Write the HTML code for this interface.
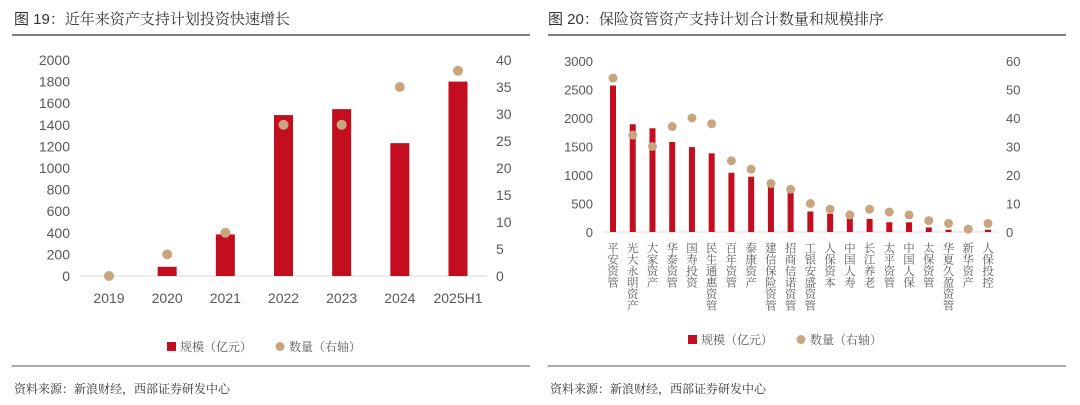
<!DOCTYPE html>
<html><head><meta charset="utf-8">
<style>
html,body{margin:0;padding:0;background:#fff;}
svg{display:block;font-family:"Liberation Sans","Noto Sans CJK SC",sans-serif;}
.t{font-family:"Noto Serif CJK SC","Noto Sans CJK SC",sans-serif;}
</style></head>
<body>
<svg id="s" width="1080" height="405" viewBox="0 0 1080 405" xmlns="http://www.w3.org/2000/svg">
  <text x="14" y="24" font-size="15" fill="#333"><tspan font-family="Liberation Sans">图 19</tspan><tspan class="t">：近年来资产支持计划投资快速增长</tspan></text>
  <line x1="12" y1="35" x2="530" y2="35" stroke="#555" stroke-width="1.5"/>
  <line x1="12" y1="366" x2="530" y2="366" stroke="#555" stroke-width="1"/>
  <text x="14" y="393" font-size="12" fill="#333" class="t">资料来源：新浪财经，西部证券研发中心</text>

  <text x="548" y="24" font-size="15" fill="#333"><tspan font-family="Liberation Sans">图 20</tspan><tspan class="t">：保险资管资产支持计划合计数量和规模排序</tspan></text>
  <line x1="548" y1="35" x2="1066" y2="35" stroke="#555" stroke-width="1.5"/>
  <line x1="548" y1="366" x2="1066" y2="366" stroke="#555" stroke-width="1"/>
  <text x="550" y="393" font-size="12" fill="#333" class="t">资料来源：新浪财经，西部证券研发中心</text>
  <g id="c1"></g><g id="c2"></g>
</svg>
<script>
const years = ["2019","2020","2021","2022","2023","2024","2025H1"];
const scaleValues = [0, 85, 385, 1490, 1545, 1230, 1800];
const countValues = [0, 4, 8, 28, 28, 35, 38];
const leftTicks = [0,200,400,600,800,1000,1200,1400,1600,1800,2000];
const rightTicks = [0,5,10,15,20,25,30,35,40];

const firms = ["平安资管","光大永明资产","大家资产","华泰资管","国寿投资","民生通惠资管","百年资管","泰康资产","建信保险资管","招商信诺资管","工银安盛资管","人保资本","中国人寿","长江养老","太平资管","中国人保","太保资管","华夏久盈资管","新华资产","人保投控"];
const firmScale = [2570, 1890, 1820, 1580, 1490, 1380, 1040, 970, 800, 700, 360, 320, 240, 230, 170, 170, 80, 40, 0, 40];
const firmCount = [54, 34, 30, 37, 40, 38, 25, 22, 17, 15, 10, 8, 6, 8, 7, 6, 4, 3, 1, 3];
const leftTicks2 = [0,500,1000,1500,2000,2500,3000];
const rightTicks2 = [0,10,20,30,40,50,60];

const NS = "http://www.w3.org/2000/svg";
const RED = "#c20e1f", TAN = "#c9a57f", GRAY = "#595959";
function mk(parent, tag, attrs, text){
  const e = document.createElementNS(NS, tag);
  for (const k in attrs) e.setAttribute(k, attrs[k]);
  if (text !== undefined) e.textContent = text;
  parent.appendChild(e); return e;
}

function chart(g, o){
  const yL = v => o.y0 - (v / o.lmax) * (o.y0 - o.y1);
  const yR = v => o.y0 - (v / o.rmax) * (o.y0 - o.y1);
  const step = (o.xlast - o.xfirst) / (o.cats.length - 1);
  const xC = i => o.xfirst + i * step;
  o.lt.forEach(v => {
    const t = mk(g, "text", {x:o.lx, y:yL(v)+5, "font-size":o.fs, fill:GRAY, "text-anchor":"end"}, v);
    
    
  });
  o.rt.forEach(v => {
    const t = mk(g, "text", {x:o.rx, y:yR(v)+5, "font-size":o.fs, fill:GRAY, "text-anchor":"start"}, v);
    
    
  });
  const ax = mk(g, "line", {x1:o.ax0, x2:o.ax1, y1:o.y0, y2:o.y0, stroke:"#d9d9d9", "stroke-width":1});
  
  
  o.cats.forEach((c, i) => {
    const h = o.y0 - yL(o.bars[i]);
    const b = mk(g, "rect", {x:xC(i)-o.bw/2, y:yL(o.bars[i]), width:o.bw, height:Math.max(h,0), fill:RED});
    
    
  });
  o.cats.forEach((c, i) => {
    const d = mk(g, "circle", {cx:xC(i), cy:yR(o.dots[i]), r:o.r, fill:TAN});
    
    
    let t;
    if (o.vertical) {
      t = mk(g, "text", {x:xC(i), y:o.labY, "font-size":11.5, fill:GRAY, "writing-mode":"tb", "glyph-orientation-vertical":"0", "font-family":"Noto Serif CJK SC, Noto Sans CJK SC, sans-serif"}, c);
    } else {
      t = mk(g, "text", {x:xC(i), y:o.labY, "font-size":o.fs, fill:GRAY, "text-anchor":"middle"}, c);
    }
    
    
  });
  const lg = mk(g, "g", {});
  
  
  const sq = mk(lg, "rect", {x:o.legX, y:o.legY-9, width:9, height:9, fill:RED});
  
  
  const l1 = mk(lg, "text", {x:o.legX+13, y:o.legY, "font-size":12, fill:GRAY, "font-family":"Noto Serif CJK SC, Noto Sans CJK SC, sans-serif"}, "规模（亿元）");
  
  
  const cc = mk(lg, "circle", {cx:o.legX+113, cy:o.legY-4.5, r:4.5, fill:TAN});
  
  
  const l2 = mk(lg, "text", {x:o.legX+122, y:o.legY, "font-size":12, fill:GRAY, "font-family":"Noto Serif CJK SC, Noto Sans CJK SC, sans-serif"}, "数量（右轴）");
  
  
}

chart(document.getElementById("c1"), {
  cats:years, bars:scaleValues, dots:countValues, lt:leftTicks, rt:rightTicks,
  lmax:2000, rmax:40, y0:276, y1:60, xfirst:109, xlast:458, bw:19, r:5,
  lx:70, rx:496, ax0:80, ax1:487, fs:14, labY:303, vertical:false, legX:167, legY:351
});
chart(document.getElementById("c2"), {
  cats:firms, bars:firmScale, dots:firmCount, lt:leftTicks2, rt:rightTicks2,
  lmax:3000, rmax:60, y0:232, y1:61, xfirst:613, xlast:988, bw:6, r:4.5,
  lx:593, rx:1006, ax0:603, ax1:998, fs:13, labY:242, vertical:true, legX:688, legY:344
});
</script>
</body></html>
